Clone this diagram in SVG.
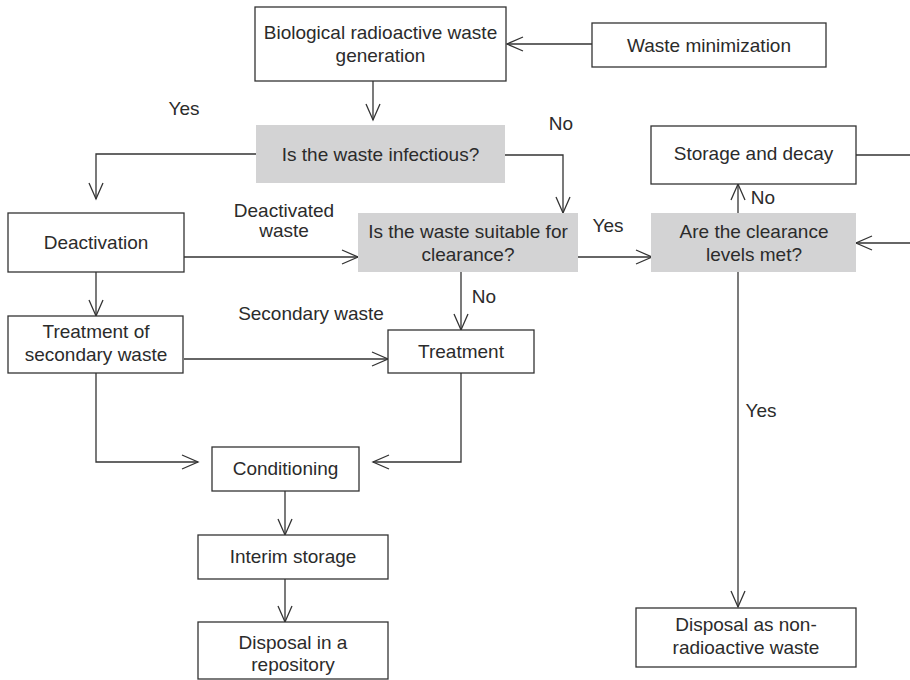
<svg xmlns="http://www.w3.org/2000/svg" width="910" height="680" viewBox="0 0 910 680">
  <style>
    .box { fill: #ffffff; stroke: #333333; stroke-width: 1.3; }
    .dec { fill: #d3d3d4; stroke: none; }
    .lbl { font-family: "Liberation Sans", Arial, sans-serif; font-size: 19px; fill: #2b2b2b; text-anchor: middle; }
    .edge { fill: none; stroke: #333333; stroke-width: 1.3; }
  </style>
  <defs>
    <marker id="arr" markerUnits="userSpaceOnUse" markerWidth="20" markerHeight="18" refX="17" refY="8" orient="auto">
      <path d="M1,1 L17,8 L1,15" fill="none" stroke="#333333" stroke-width="1.3"/>
    </marker>
  </defs>

  <!-- connectors -->
  <g id="connectors">
    <path class="edge" d="M592,44 L507,44" marker-end="url(#arr)"/>
    <path class="edge" d="M373,81 L373,120" marker-end="url(#arr)"/>
    <path class="edge" d="M256,154 L96,154 L96,199" marker-end="url(#arr)"/>
    <path class="edge" d="M505,155 L563,155 L563,213" marker-end="url(#arr)"/>
    <path class="edge" d="M184,257 L358,257" marker-end="url(#arr)"/>
    <path class="edge" d="M578,257 L652,257" marker-end="url(#arr)"/>
    <path class="edge" d="M738,213 L738,184" marker-end="url(#arr)"/>
    <path class="edge" d="M856,155 L910,155"/>
    <path class="edge" d="M910,243 L856,243" marker-end="url(#arr)"/>
    <path class="edge" d="M461,272 L461,330" marker-end="url(#arr)"/>
    <path class="edge" d="M96,272 L96,316" marker-end="url(#arr)"/>
    <path class="edge" d="M184,359 L388,359" marker-end="url(#arr)"/>
    <path class="edge" d="M96,373 L96,462 L198,462" marker-end="url(#arr)"/>
    <path class="edge" d="M461,373 L461,462 L373,462" marker-end="url(#arr)"/>
    <path class="edge" d="M285,491 L285,535" marker-end="url(#arr)"/>
    <path class="edge" d="M285,579 L285,622" marker-end="url(#arr)"/>
    <path class="edge" d="M738,272 L738,607" marker-end="url(#arr)"/>

    <text class="lbl" x="184" y="115">Yes</text>
    <text class="lbl" x="561" y="130">No</text>
    <text class="lbl" x="284" y="217">Deactivated</text>
    <text class="lbl" x="284" y="237">waste</text>
    <text class="lbl" x="608" y="232">Yes</text>
    <text class="lbl" x="763" y="204">No</text>
    <text class="lbl" x="484" y="303">No</text>
    <text class="lbl" x="311" y="320">Secondary waste</text>
    <text class="lbl" x="761" y="417">Yes</text>
  </g>

  <g id="generation">
    <rect class="box" x="255" y="7" width="251" height="74"/>
    <text class="lbl" x="380.5" y="39">Biological radioactive waste</text>
    <text class="lbl" x="380.5" y="62">generation</text>
  </g>

  <g id="minimization">
    <rect class="box" x="592" y="23" width="234" height="44"/>
    <text class="lbl" x="709" y="52">Waste minimization</text>
  </g>

  <g id="infectious">
    <rect class="dec" x="256" y="125" width="249" height="58"/>
    <text class="lbl" x="380.5" y="161">Is the waste infectious?</text>
  </g>

  <g id="deactivation">
    <rect class="box" x="8" y="213" width="176" height="59"/>
    <text class="lbl" x="96" y="249">Deactivation</text>
  </g>

  <g id="suitable">
    <rect class="dec" x="358" y="213" width="220" height="59"/>
    <text class="lbl" x="468" y="238">Is the waste suitable for</text>
    <text class="lbl" x="468" y="261">clearance?</text>
  </g>

  <g id="clearance">
    <rect class="dec" x="651" y="213" width="205" height="59"/>
    <text class="lbl" x="754" y="238">Are the clearance</text>
    <text class="lbl" x="754" y="261">levels met?</text>
  </g>

  <g id="storage-decay">
    <rect class="box" x="651" y="126" width="205" height="58"/>
    <text class="lbl" x="753.5" y="160">Storage and decay</text>
  </g>

  <g id="secondary">
    <rect class="box" x="8" y="316" width="175" height="57"/>
    <text class="lbl" x="96" y="338">Treatment of</text>
    <text class="lbl" x="96" y="361">secondary waste</text>
  </g>

  <g id="treatment">
    <rect class="box" x="388" y="330" width="146" height="43"/>
    <text class="lbl" x="461" y="358">Treatment</text>
  </g>

  <g id="conditioning">
    <rect class="box" x="212" y="447" width="147" height="44"/>
    <text class="lbl" x="285.5" y="475">Conditioning</text>
  </g>

  <g id="interim">
    <rect class="box" x="198" y="535" width="190" height="44"/>
    <text class="lbl" x="293" y="563">Interim storage</text>
  </g>

  <g id="repository">
    <rect class="box" x="198" y="622" width="190" height="57"/>
    <text class="lbl" x="293" y="649">Disposal in a</text>
    <text class="lbl" x="293" y="671">repository</text>
  </g>

  <g id="non-radioactive">
    <rect class="box" x="636" y="608" width="220" height="59"/>
    <text class="lbl" x="746" y="631">Disposal as non-</text>
    <text class="lbl" x="746" y="654">radioactive waste</text>
  </g>
</svg>
